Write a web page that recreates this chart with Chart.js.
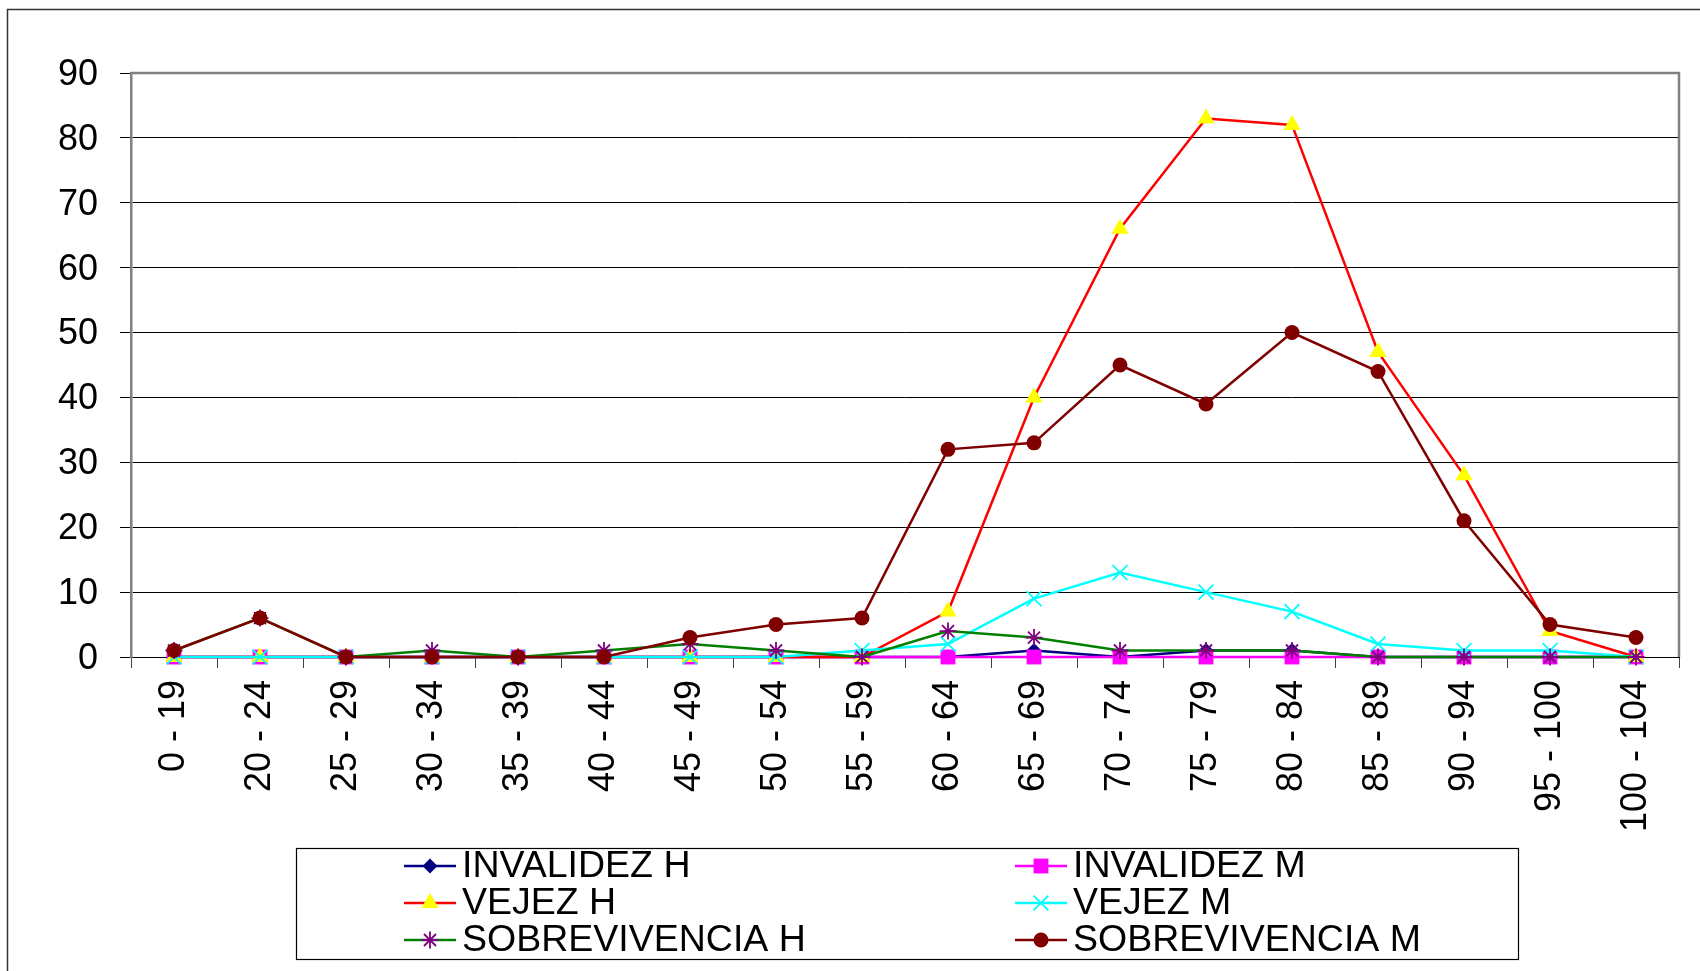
<!DOCTYPE html>
<html>
<head>
<meta charset="utf-8">
<script src="https://cdn.jsdelivr.net/npm/chart.js@4.4.1/dist/chart.umd.min.js"></script>
<style>
    body { margin: 0; background: #fff; }
    #wrap { width: 1700px; height: 971px; }
</style>
</head>
<body>
<div id="wrap"><canvas id="mylinechart" width="1700" height="971"></canvas></div>
<script>
const edades = ['0 - 19', '20 - 24', '25 - 29', '30 - 34', '35 - 39', '40 - 44', '45 - 49', '50 - 54', '55 - 59',
    '60 - 64', '65 - 69', '70 - 74', '75 - 79', '80 - 84', '85 - 89', '90 - 94', '95 - 100', '100 - 104']

const invalidezH = [0, 0, 0, 0, 0, 0, 0, 0, 0, 0, 1, 0, 1, 1, 0, 0, 0, 0]
const invalidezM = [0, 0, 0, 0, 0, 0, 0, 0, 0, 0, 0, 0, 0, 0, 0, 0, 0, 0]
const vejezH = [0, 0, 0, 0, 0, 0, 0, 0, 0, 7, 40, 66, 83, 82, 47, 28, 4, 0]
const vejezM = [0, 0, 0, 0, 0, 0, 0, 0, 1, 2, 9, 13, 10, 7, 2, 1, 1, 0]
const sobrevivenciaH = [1, 6, 0, 1, 0, 1, 2, 1, 0, 4, 3, 1, 1, 1, 0, 0, 0, 0]
const sobrevivenciaM = [1, 6, 0, 0, 0, 0, 3, 5, 6, 32, 33, 45, 39, 50, 44, 21, 5, 3]

const yTicks = [0, 10, 20, 30, 40, 50, 60, 70, 80, 90]

const fontFamily = '"Liberation Sans", Arial, sans-serif'

function serie(label, data, line, marker, style, radius, order){
    return {
        label: label,
        data: data,
        borderColor: line,
        borderWidth: 2.5,
        pointStyle: style,
        pointRadius: radius,
        pointBackgroundColor: marker,
        pointBorderColor: marker,
        pointBorderWidth: (style === 'crossRot' || style === 'star') ? 1.8 : 0,
        tension: 0,
        fill: false,
        clip: false,
        order: order
    }
}

const datasets = [
    serie('INVALIDEZ H', invalidezH, '#000080', '#000080', 'rectRot', 7.5, 6),
    serie('INVALIDEZ M', invalidezM, '#FF00FF', '#FF00FF', 'rect', 10.5, 5),
    serie('VEJEZ H', vejezH, '#FF0000', '#FFFF00', 'triangle', 10, 4),
    serie('VEJEZ M', vejezM, '#00FFFF', '#00FFFF', 'crossRot', 10.5, 3),
    serie('SOBREVIVENCIA H', sobrevivenciaH, '#008000', '#800080', 'star', 8.5, 2),
    serie('SOBREVIVENCIA M', sobrevivenciaM, '#800000', '#800000', 'circle', 7.5, 1)
]

//frame, plot border and legend box
const marcoPlugin = {
    id: 'marco',
    beforeDraw(chart){
        const ctx = chart.ctx
        ctx.save()
        ctx.strokeStyle = '#333'
        ctx.lineWidth = 1.5
        ctx.beginPath()
        ctx.moveTo(7.5, 971)
        ctx.lineTo(7.5, 9.5)
        ctx.lineTo(1700, 9.5)
        ctx.stroke()
        ctx.restore()
    },
    afterDraw(chart){
        const ctx = chart.ctx
        const a = chart.chartArea
        ctx.save()
        ctx.strokeStyle = '#808080'
        ctx.lineWidth = 2.5
        ctx.beginPath()
        ctx.moveTo(a.left, a.top)
        ctx.lineTo(a.right, a.top)
        ctx.lineTo(a.right, a.bottom)
        ctx.stroke()

        // legend
        ctx.strokeStyle = '#000'
        ctx.lineWidth = 1.2
        ctx.strokeRect(296.5, 848.5, 1222, 111)
        const cols = [430, 1041]
        const rows = [866, 903, 940]
        ctx.font = '37.5px ' + fontFamily
        ctx.textBaseline = 'middle'
        ctx.textAlign = 'left'
        chart.data.datasets.forEach(function(ds, i){
            const cx = cols[i % 2]
            const cy = rows[Math.floor(i / 2)]
            ctx.strokeStyle = ds.borderColor
            ctx.lineWidth = 2.5
            ctx.beginPath()
            ctx.moveTo(cx - 26, cy)
            ctx.lineTo(cx + 26, cy)
            ctx.stroke()
            ctx.fillStyle = ds.pointBackgroundColor
            ctx.strokeStyle = ds.pointBorderColor
            ctx.lineWidth = ds.pointBorderWidth
            if(Chart.helpers && Chart.helpers.drawPoint){
                Chart.helpers.drawPoint(ctx, {
                    pointStyle: ds.pointStyle,
                    radius: ds.pointRadius,
                    rotation: 0,
                    borderWidth: ds.pointBorderWidth
                }, cx, cy)
            }
            ctx.fillStyle = '#000'
            ctx.fillText(ds.label, cx + 32, cy + 1)
        })
        ctx.restore()
    }
}

const canvasforline = document.getElementById('mylinechart')

new Chart(canvasforline, {
    type: 'line',
    data: {
        labels: edades,
        datasets: datasets
    },
    options: {
        responsive: false,
        animation: false,
        layout: {
            padding: { left: 0, top: 73, right: 21, bottom: 0 }
        },
        plugins: {
            legend: { display: false },
            tooltip: { enabled: false }
        },
        scales: {
            x: {
                offset: true,
                afterFit: function(scale){ scale.height = 314 },
                grid: {
                    offset: true,
                    drawOnChartArea: false,
                    drawTicks: true,
                    tickLength: 11,
                    tickColor: '#444'
                },
                border: { color: '#000', width: 1 },
                ticks: {
                    autoSkip: false,
                    minRotation: 90,
                    maxRotation: 90,
                    padding: 12,
                    color: '#000',
                    font: { size: 36, family: fontFamily }
                }
            },
            y: {
                min: 0,
                max: 90,
                afterFit: function(scale){ scale.width = 131 },
                afterBuildTicks: function(scale){
                    scale.ticks = yTicks.map(function(v){ return { value: v } })
                },
                grid: {
                    color: '#000',
                    lineWidth: 1,
                    tickLength: 11,
                    tickColor: '#000'
                },
                border: { color: '#808080', width: 2.5 },
                ticks: {
                    padding: 22,
                    labelOffset: 2,
                    color: '#000',
                    font: { size: 36, family: fontFamily }
                }
            }
        }
    },
    plugins: [marcoPlugin]
})
</script>
</body>
</html>
